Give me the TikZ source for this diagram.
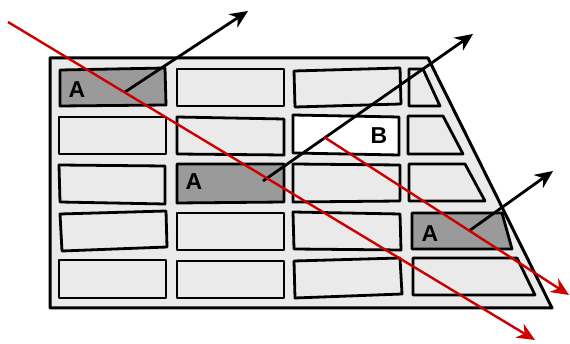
\documentclass[tikz,border=0pt]{standalone}
\usepackage{fontspec}
\setmainfont{Liberation Sans}
\usetikzlibrary{arrows.meta}
\definecolor{lightg}{HTML}{EAEAEA}
\definecolor{darkg}{HTML}{9A9A9A}
\definecolor{redl}{HTML}{CC0000}
\tikzset{
  cell/.style={draw=black, line width=2.8pt, fill=lightg, line join=round},
  darkcell/.style={cell, fill=darkg},
  whitecell/.style={cell, fill=white},
  lbl/.style={font=\bfseries\fontsize{23}{23}\selectfont, inner sep=0pt},
  blackray/.style={draw=black, line width=2.8pt, -{Stealth[length=18pt,width=16pt]}},
  redray/.style={draw=redl, line width=2.4pt, -{Stealth[length=18pt,width=16pt]}},
}
\begin{document}
\begin{tikzpicture}[x=1pt,y=-1pt]
\useasboundingbox (0,0) rectangle (570,344);
% outer panel
\draw[cell, line width=3pt] (50,58) -- (428,58) -- (552,308) -- (50,308) -- cycle;
% row 1
\draw[darkcell] (60,70) -- (165,68) -- (166,105) -- (60,106) -- cycle;
\draw[cell] (177,69) -- (284,69) -- (284,106) -- (177,106) -- cycle;
\draw[cell] (294,71) -- (400,68) -- (401,104) -- (295,107) -- cycle;
\draw[cell] (409,69) -- (423,69) -- (440,106) -- (409,106) -- cycle;
% row 2
\draw[cell] (59,117) -- (166,117) -- (166,154) -- (59,154) -- cycle;
\draw[cell] (177,117) -- (284,119) -- (284,155) -- (177,154) -- cycle;
\draw[whitecell] (293,115) -- (399,117) -- (399,155) -- (293,153) -- cycle;
\draw[cell] (408,116) -- (443,116) -- (463,154) -- (408,154) -- cycle;
% row 3
\draw[cell] (59,165) -- (165,166) -- (165,204) -- (60,202) -- cycle;
\draw[darkcell] (177,164) -- (284,164) -- (284,202) -- (177,203) -- cycle;
\draw[cell] (293,164) -- (400,165) -- (400,201) -- (293,202) -- cycle;
\draw[cell] (409,164) -- (465,164) -- (485,201) -- (409,201) -- cycle;
% row 4
\draw[cell] (60,214) -- (166,211) -- (167,247) -- (62,251) -- cycle;
\draw[cell] (177,213) -- (284,213) -- (284,250) -- (177,250) -- cycle;
\draw[cell] (293,212) -- (400,214) -- (401,250) -- (294,249) -- cycle;
\draw[darkcell] (412,213) -- (502,213) -- (512,249) -- (412,249) -- cycle;
% row 5
\draw[cell] (59,260) -- (166,260) -- (166,298) -- (59,298) -- cycle;
\draw[cell] (177,261) -- (284,261) -- (284,298) -- (177,298) -- cycle;
\draw[cell] (294,261) -- (400,258) -- (402,294) -- (295,298) -- cycle;
\draw[cell] (413,258) -- (517,258) -- (535,295) -- (413,295) -- cycle;
% labels
\node[lbl] (a1) at (77,90) {A};
\node[lbl] (a2) at (194,182) {A};
\node[lbl] (a3) at (430,234) {A};
\node[lbl] (b1) at (379,136) {B};
% ray endpoints
\coordinate (r1s) at (8,22);
\coordinate (r1e) at (535,340);
\coordinate (r2s) at (324,137);
\coordinate (r2e) at (569,295);
\coordinate (k1s) at (125,92);
\coordinate (k1e) at (248,11);
\coordinate (k2s) at (263,181);
\coordinate (k2e) at (473,34);
\coordinate (k3s) at (469,231);
\coordinate (k3e) at (553,171);
% rays
\draw[blackray] (k1s) -- (k1e);
\draw[blackray] (k2s) -- (k2e);
\draw[blackray] (k3s) -- (k3e);
\draw[redray] (r1s) -- (r1e);
\draw[redray] (r2s) -- (r2e);
\end{tikzpicture}
\end{document}
